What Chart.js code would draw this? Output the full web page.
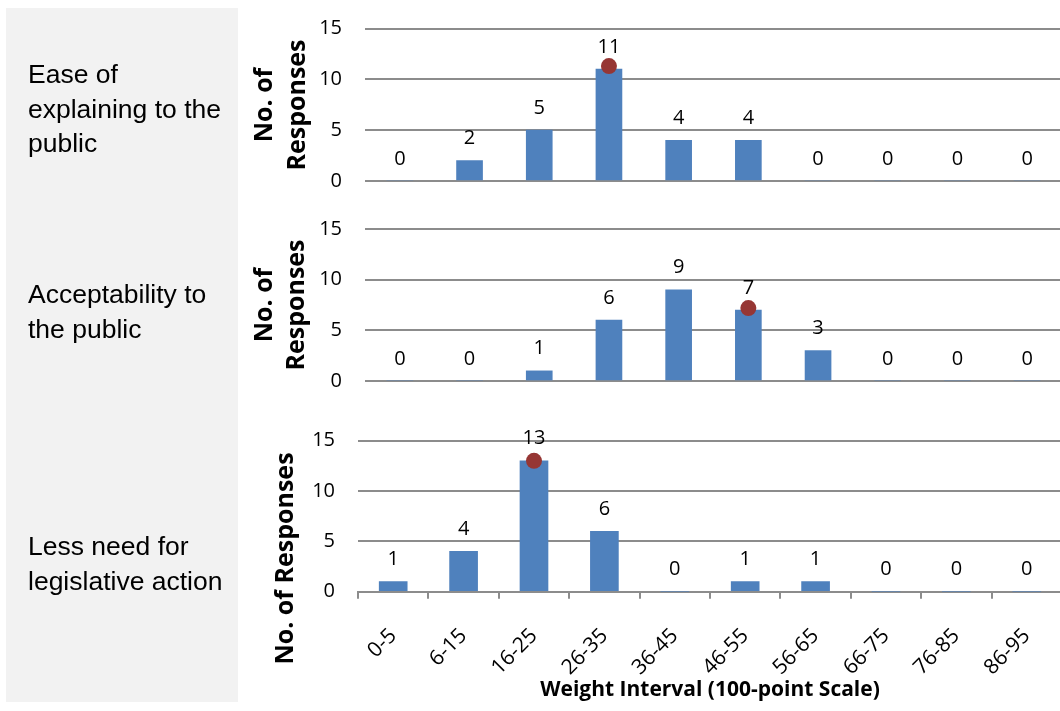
<!DOCTYPE html>
<html><head><meta charset="utf-8">
<script src="https://cdn.jsdelivr.net/npm/chart.js@4.4.0/dist/chart.umd.min.js"></script>
<style>
html,body{margin:0;padding:0;width:1060px;height:711px;overflow:hidden;background:#fff;}
#gray{position:absolute;left:6px;top:8px;width:232px;height:694px;background:#f2f2f2;}
canvas{position:absolute;left:0;}
</style></head><body>
<div id="gray"></div>
<canvas id="c1" width="1070" height="205" style="top:0px"></canvas>
<canvas id="c2" width="1070" height="205" style="top:205px"></canvas>
<canvas id="c3" width="1070" height="301" style="top:410px"></canvas>
<script>
// ---- data ----
const categories = ['0-5','6-15','16-25','26-35','36-45','46-55','56-65','66-75','76-85','86-95'];
const easeCounts   = [0, 2, 5, 11, 4, 4, 0, 0, 0, 0];
const acceptCounts = [0, 0, 1, 6, 9, 7, 3, 0, 0, 0];
const legislCounts = [1, 4, 13, 6, 0, 1, 1, 0, 0, 0];
const easeMarker   = [null, null, null, 11.3, null, null, null, null, null, null];
const acceptMarker = [null, null, null, null, null, 7.2, null, null, null, null];
const legislMarker = [null, null, 13.0, null, null, null, null, null, null, null];
const yMin = 0, yMax = 15, yStep = 5;
const rowLabels = [
  ['Ease of', 'explaining to the', 'public'],
  ['Acceptability to', 'the public'],
  ['Less need for', 'legislative action']
];
const yTitleTwoLines = ['No. of', 'Responses'];
const yTitleOneLine = ['No. of Responses'];
const xTitle = 'Weight Interval (100-point Scale)';

// ---- styles ----
const BAR = '#4f81bd', DOT = '#963634', GRID = '#8c8c8c';
const TXT = '#000000';
Chart.defaults.font.family = '"Open Sans", sans-serif';
Chart.defaults.color = TXT;

const panelText = {
  id: 'panelText',
  afterDraw(chart, args, o) {
    const ctx = chart.ctx;
    ctx.save();
    ctx.fillStyle = TXT;
    ctx.font = '26.5px "Liberation Sans", Arial, sans-serif';
    ctx.textAlign = 'left';
    ctx.textBaseline = 'alphabetic';
    o.rowLines.forEach((t, i) => ctx.fillText(t, o.rowX, o.rowBaselines[i]));
    ctx.font = 'bold 25px "Open Sans", sans-serif';
    ctx.textAlign = 'center';
    o.titleLines.forEach((t, i) => {
      ctx.save();
      ctx.translate(o.titleBaselineX[i], o.titleCenterY);
      ctx.rotate(-Math.PI / 2);
      ctx.fillText(t, 0, 0);
      ctx.restore();
    });
    ctx.restore();
  }
};

const barValueLabels = {
  id: 'barValueLabels',
  afterDatasetsDraw(chart) {
    const ctx = chart.ctx;
    const meta = chart.getDatasetMeta(0);
    const vals = chart.data.datasets[0].data;
    ctx.save();
    ctx.fillStyle = TXT;
    ctx.font = '20px "Open Sans", sans-serif';
    ctx.textAlign = 'center';
    ctx.textBaseline = 'alphabetic';
    meta.data.forEach((el, i) => ctx.fillText(String(vals[i]), el.x, el.y - 16.5));
    ctx.restore();
  }
};

function makePanel(id, counts, marker, cfg) {
  const xScale = cfg.showX ? {
    type: 'category',
    offset: true,
    grid: { display: true, drawOnChartArea: false, drawTicks: true, tickLength: 7, color: GRID, lineWidth: 2, offset: true },
    border: { display: true, color: GRID, width: 2 },
    ticks: { autoSkip: false, maxRotation: 45, minRotation: 45, font: { size: 21 }, color: TXT, padding: 25 },
    title: { display: true, text: xTitle, font: { size: 21, weight: 'bold' }, color: TXT, padding: { top: 0, bottom: 8 } },
    afterFit: s => { s.height = cfg.xHeight; }
  } : { type: 'category', offset: true, display: false };

  return new Chart(document.getElementById(id), {
    data: {
      labels: categories,
      datasets: [
        { type: 'bar', data: counts, backgroundColor: BAR, barThickness: cfg.barW, order: 2 },
        { type: 'line', data: marker, showLine: false, pointRadius: 8, pointHoverRadius: 8,
          pointBackgroundColor: DOT, pointBorderWidth: 0, order: 1 }
      ]
    },
    options: {
      responsive: false,
      animation: false,
      events: [],
      layout: { padding: { left: 0, right: 5, top: cfg.padTop, bottom: cfg.padBottom } },
      plugins: {
        legend: { display: false },
        tooltip: { enabled: false },
        panelText: cfg.text
      },
      scales: {
        x: xScale,
        y: {
          min: yMin, max: yMax,
          ticks: { stepSize: yStep, font: { size: 20 }, color: TXT, padding: 3 },
          grid: { color: GRID, lineWidth: 2, drawTicks: true, tickLength: 20, tickColor: 'rgba(0,0,0,0)' },
          border: { display: false },
          afterFit: s => { s.width = cfg.yWidth; }
        }
      }
    },
    plugins: [panelText, barValueLabels]
  });
}

makePanel('c1', easeCounts, easeMarker, {
  showX: false, barW: 26, yWidth: 365, padTop: 28.5, padBottom: 24,
  text: { rowLines: rowLabels[0], rowX: 28, rowBaselines: [83, 117.5, 152],
          titleLines: yTitleTwoLines, titleBaselineX: [272, 305], titleCenterY: 105 }
});
makePanel('c2', acceptCounts, acceptMarker, {
  showX: false, barW: 26, yWidth: 365, padTop: 24, padBottom: 29,
  text: { rowLines: rowLabels[1], rowX: 28, rowBaselines: [98, 133],
          titleLines: yTitleTwoLines, titleBaselineX: [272, 303.5], titleCenterY: 100 }
});
makePanel('c3', legislCounts, legislMarker, {
  showX: true, barW: 28, yWidth: 358, padTop: 30.7, padBottom: 0, xHeight: 119.3,
  text: { rowLines: rowLabels[2], rowX: 28, rowBaselines: [145, 180],
          titleLines: yTitleOneLine, titleBaselineX: [293], titleCenterY: 148.5 }
});
</script>
</body></html>
